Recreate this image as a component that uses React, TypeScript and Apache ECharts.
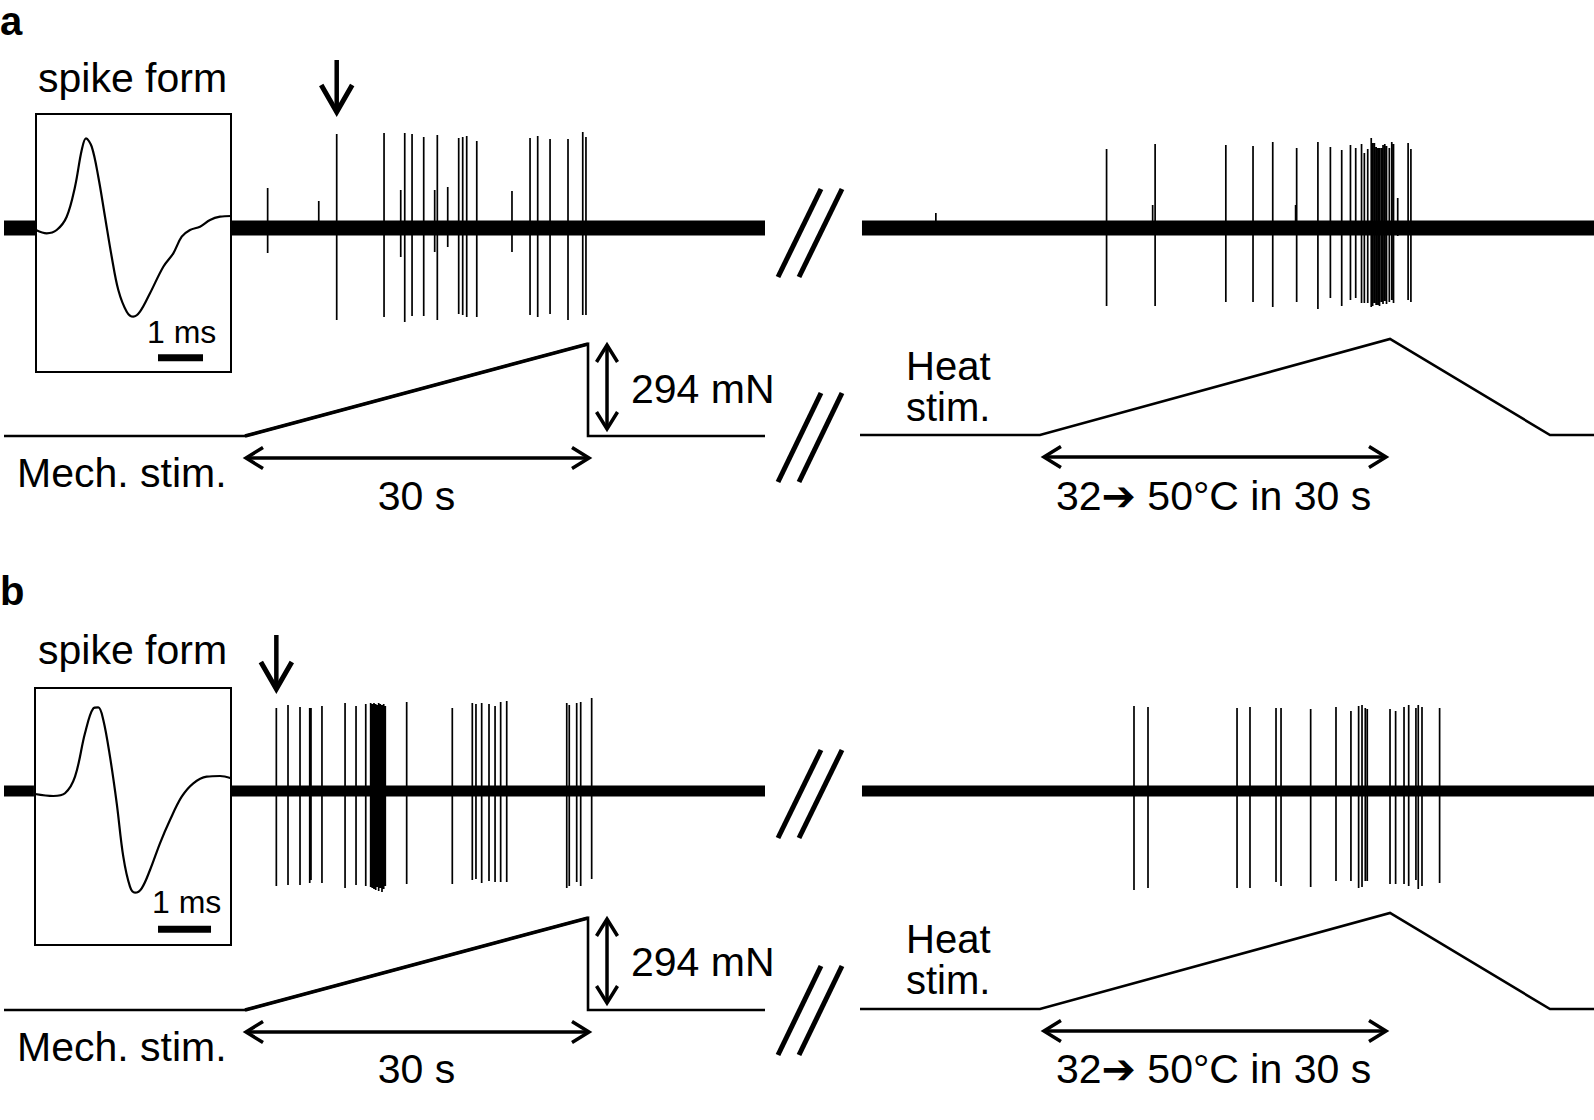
import React, { useEffect, useRef } from "react";
import * as echarts from "echarts";

const FONT = '"Liberation Sans", Arial, Helvetica, "DejaVu Sans", sans-serif';

// ---------- time axes (s) ----------
const LEFT_T_MAX = 66.56;
const RIGHT_T_MAX = 62.9;

// ---------- stimuli ----------
const mechStimT = [0, 21.08, 51.08, 51.08, 66.56];
const mechStimForce = [0, 0, 294, 0, 0]; // mN
const heatStimT = [0, 15.42, 45.42, 59.13, 62.9];
const heatStimTemp = [32, 32, 50, 32, 32]; // °C

// ---------- spike forms (ms, a.u.) ----------
const formA_ms = [0, 0.238, 0.46, 0.682, 0.867, 1.016, 1.111, 1.238, 1.384, 1.533, 1.682, 1.829, 2.016, 2.162, 2.311, 2.533, 2.829, 3.051, 3.238, 3.422, 3.644, 3.867, 4.089, 4.333];
const formA_amp = [-2, -5.3, -2, 11.3, 41.3, 78, 89.7, 81.3, 51.3, 11.3, -28.7, -62, -83.7, -88.7, -83.7, -65.3, -38.7, -25.3, -8.7, -2, 1.3, 8, 11.3, 12];
const formB_ms = [0, 0.345, 0.566, 0.755, 0.943, 1.1, 1.194, 1.289, 1.415, 1.542, 1.666, 1.792, 1.887, 2.013, 2.17, 2.358, 2.547, 2.768, 2.987, 3.24, 3.491, 3.698];
const formB_amp = [-3, -5, -2.3, 14.3, 57.7, 82.7, 83.7, 71, 34.3, -12.3, -65.7, -95.7, -101.7, -97.3, -79, -52.3, -29, -5.7, 7.7, 14.3, 15, 12.7];
const scaleBarA_ms = [2.711, 3.711];
const scaleBarB_ms = [2.321, 3.321];

// ---------- panel a: spikes during mechanical stimulation ----------
const mechSpikeT_A = [23.06, 27.53, 29.1, 33.24, 34.7, 35.05, 35.69, 36.71, 37.67, 37.9, 38.81, 39.77, 40.12, 40.47, 41.35, 44.43, 46.01, 46.68, 47.76, 49.33, 50.62, 50.9];
const mechSpikeUp_A = [40, 27, 94, 95, 38, 95, 94, 91, 38, 93, 41, 90, 91, 92, 87, 37, 90, 92, 89, 89, 96, 91];
const mechSpikeDown_A = [25, 3, 92, 89, 29, 94, 88, 88, 24, 92, 19, 86, 87, 89, 89, 24, 87, 89, 86, 92, 87, 87];

// ---------- panel a: spikes during heat stimulation ----------
const heatSpikeT_A = [6.5, 21.13, 25.08, 25.29, 31.35, 33.68, 35.37, 37.33, 37.42, 39.24, 40.31, 41.28, 42.03, 42.48, 42.98, 43.22, 43.51, 43.81, 43.93, 44.08, 44.23, 44.38, 44.52, 44.68, 44.82, 44.97, 45.12, 45.36, 45.57, 45.72, 46.08, 46.97, 47.21];
const heatSpikeUp_A = [15, 79, 23, 84, 83, 82, 86, 23, 80, 86, 81, 78, 83, 80, 84, 75, 79, 90, 85, 85, 81, 80, 80, 80, 83, 84, 82, 80, 86, 84, 30, 85, 79];
const heatSpikeDown_A = [2, 78, 3, 78, 74, 74, 79, 5, 74, 81, 70, 78, 72, 70, 75, 75, 75, 79, 78, 75, 77, 77, 78, 74, 76, 73, 76, 74, 72, 75, 8, 72, 74];

// ---------- panel b: spikes during mechanical stimulation ----------
const mechSpikeT_B = [23.82, 24.84, 25.89, 26.74, 26.85, 27.81, 29.83, 30.79, 31.64, 32.07, 32.21, 32.36, 32.51, 32.62, 32.77, 32.91, 33.06, 33.21, 33.35, 35.22, 39.21, 40.96, 41.28, 41.78, 42.42, 42.95, 43.44, 43.97, 49.22, 49.44, 50.09, 50.44, 51.4];
const mechSpikeUp_B = [83, 86, 84, 83, 83, 85, 88, 85, 87, 88, 87, 88, 87, 86, 88, 87, 86, 87, 85, 89, 83, 88, 87, 88, 87, 85, 89, 90, 88, 86, 88, 89, 93];
const mechSpikeDown_B = [95, 94, 94, 92, 89, 92, 97, 94, 95, 96, 97, 98, 99, 96, 100, 97, 101, 98, 95, 93, 93, 89, 88, 92, 90, 91, 91, 91, 97, 95, 91, 95, 88];

// ---------- panel b: spikes during heat stimulation ----------
const heatSpikeT_B = [23.48, 24.68, 32.31, 33.42, 35.65, 36.08, 38.62, 40.79, 42.07, 42.73, 43.02, 43.3, 43.47, 45.42, 45.9, 46.62, 47.02, 47.64, 47.84, 48.16, 49.67];
const heatSpikeUp_B = [85, 84, 83, 84, 83, 83, 82, 84, 80, 85, 86, 83, 82, 82, 80, 84, 86, 83, 86, 84, 83];
const heatSpikeDown_B = [99, 97, 97, 97, 91, 95, 96, 90, 90, 97, 96, 90, 90, 93, 93, 93, 95, 89, 98, 95, 92];

const PANELS = [
  {
    label: "a",
    form: [formA_ms, formA_amp], bar: scaleBarA_ms, barAmp: -129.7,
    mech: [mechSpikeT_A, mechSpikeUp_A, mechSpikeDown_A],
    heat: [heatSpikeT_A, heatSpikeUp_A, heatSpikeDown_A],
    inset: { left: 36, top: 114, width: 195, height: 258, xMax: 4.333, yMin: -144, yMax: 114 },
    base: 228, noiseW: 15, boxT: [2.71, 19.94],
    mechTop: 344, heatTop: 339,
    labelY: 21, spikeFormY: 78, msX: 147, msY: 332, mechY: 473, sY: 496, mnY: 389, heatStimY: 386,
    arrowTop: 60, arrowTip: 113, slashUp: [277, 189], slashLow: [482, 393],
  },
  {
    label: "b",
    form: [formB_ms, formB_amp], bar: scaleBarB_ms, barAmp: -138.3,
    mech: [mechSpikeT_B, mechSpikeUp_B, mechSpikeDown_B],
    heat: [heatSpikeT_B, heatSpikeUp_B, heatSpikeDown_B],
    inset: { left: 35, top: 688, width: 196, height: 257, xMax: 3.698, yMin: -154, yMax: 103 },
    base: 791, noiseW: 11, boxT: [2.62, 19.94],
    mechTop: 918, heatTop: 913,
    labelY: 591, spikeFormY: 650, msX: 152, msY: 902, mechY: 1047, sY: 1069, mnY: 962, heatStimY: 959,
    arrowTop: 635, arrowTip: 690, slashUp: [838, 750], slashLow: [1055, 966],
  },
];

function spikeData(t: number[], up: number[], down: number[]) {
  const d: number[][] = [];
  for (let i = 0; i < t.length; i++) {
    d.push([t[i], 0], [t[i], up[i]], [t[i], -down[i]], [t[i], 0]);
  }
  return d;
}

function zip(a: number[], b: number[]) {
  return a.map((v, i) => [v, b[i]]);
}

function lineSeries(g: number, data: any[], width: number, extra: any = {}) {
  return {
    type: "line",
    xAxisIndex: g,
    yAxisIndex: g,
    data,
    symbol: "none",
    showSymbol: false,
    clip: false,
    silent: true,
    emphasis: { disabled: true },
    lineStyle: { color: "#000", width, cap: "butt", join: "miter" },
    ...extra,
  };
}

function text(x: number, y: number, str: string, size = 41, align = "left", weight = "normal", lh?: number) {
  return {
    type: "text",
    x,
    y,
    silent: true,
    style: {
      text: str,
      fontSize: size,
      lineHeight: lh || Math.round(size * 0.9),
      fontFamily: FONT,
      fontWeight: weight,
      fill: "#000",
      align,
      verticalAlign: "middle",
    },
  };
}

function seg(x1: number, y1: number, x2: number, y2: number, w: number) {
  return {
    type: "line",
    silent: true,
    shape: { x1, y1, x2, y2 },
    style: { stroke: "#000", lineWidth: w, lineCap: "butt" },
  };
}

function chevron(points: number[][], w: number) {
  return {
    type: "polyline",
    silent: true,
    shape: { points },
    style: { stroke: "#000", fill: "none", lineWidth: w, lineJoin: "miter", lineCap: "butt" },
  };
}

function hArrow(x1: number, x2: number, y: number) {
  const w = 3.5;
  return [
    seg(x1 + 1, y, x2 - 1, y, w),
    chevron([[x1 + 18, y - 10.5], [x1 + 1, y], [x1 + 18, y + 10.5]], w),
    chevron([[x2 - 18, y - 10.5], [x2 - 1, y], [x2 - 18, y + 10.5]], w),
  ];
}

function vArrow(x: number, y1: number, y2: number) {
  const w = 3.5;
  return [
    seg(x, y1 + 1, x, y2 - 1, w),
    chevron([[x - 10.5, y1 + 18], [x, y1 + 1], [x + 10.5, y1 + 18]], w),
    chevron([[x - 10.5, y2 - 18], [x, y2 - 1], [x + 10.5, y2 - 18]], w),
  ];
}

export default function App() {
  const ref = useRef<HTMLDivElement>(null);

  useEffect(() => {
    document.body.style.margin = "0";
    document.body.style.overflow = "hidden";
    if (!ref.current) return;
    const chart = echarts.init(ref.current, undefined, { renderer: "svg" });

    const grid: any[] = [];
    const xAxis: any[] = [];
    const yAxis: any[] = [];
    const series: any[] = [];

    PANELS.forEach((P) => {
      const g0 = grid.length;
      const I = P.inset;
      // 0: inset box
      grid.push({ left: I.left, top: I.top, width: I.width, height: I.height, show: true, borderColor: "#000", borderWidth: 2, backgroundColor: "#fff" });
      xAxis.push({ type: "value", gridIndex: g0, min: 0, max: I.xMax, show: false });
      yAxis.push({ type: "value", gridIndex: g0, min: I.yMin, max: I.yMax, show: false });
      // 1: left trace
      grid.push({ left: 4, width: 761, top: P.base - 100, height: 200 });
      xAxis.push({ type: "value", gridIndex: g0 + 1, min: 0, max: LEFT_T_MAX, show: false });
      yAxis.push({ type: "value", gridIndex: g0 + 1, min: -100, max: 100, show: false });
      // 2: right trace
      grid.push({ left: 860, width: 734, top: P.base - 100, height: 200 });
      xAxis.push({ type: "value", gridIndex: g0 + 2, min: 0, max: RIGHT_T_MAX, show: false });
      yAxis.push({ type: "value", gridIndex: g0 + 2, min: -100, max: 100, show: false });
      // 3: mechanical stimulus
      grid.push({ left: 4, width: 761, top: P.mechTop, height: 92 });
      xAxis.push({ type: "value", gridIndex: g0 + 3, min: 0, max: LEFT_T_MAX, show: false });
      yAxis.push({ type: "value", gridIndex: g0 + 3, min: 0, max: 294, show: false });
      // 4: heat stimulus
      grid.push({ left: 860, width: 734, top: P.heatTop, height: 96 });
      xAxis.push({ type: "value", gridIndex: g0 + 4, min: 0, max: RIGHT_T_MAX, show: false });
      yAxis.push({ type: "value", gridIndex: g0 + 4, min: 32, max: 50, show: false });

      // spike form + scale bar
      series.push(lineSeries(g0, zip(P.form[0], P.form[1]), 2.2, { smooth: 0.35 }));
      series.push(lineSeries(g0, [[P.bar[0], P.barAmp], [P.bar[1], P.barAmp]], 7));
      // noise bands
      series.push(lineSeries(g0 + 1, [[0, 0], [P.boxT[0], 0]], P.noiseW));
      series.push(lineSeries(g0 + 1, [[P.boxT[1], 0], [LEFT_T_MAX, 0]], P.noiseW));
      series.push(lineSeries(g0 + 2, [[0.17, 0], [RIGHT_T_MAX, 0]], P.noiseW));
      // spikes
      series.push(lineSeries(g0 + 1, spikeData(P.mech[0], P.mech[1], P.mech[2]), 1.7));
      series.push(lineSeries(g0 + 2, spikeData(P.heat[0], P.heat[1], P.heat[2]), 1.7));
      // stimuli
      series.push(lineSeries(g0 + 3, zip(mechStimT, mechStimForce), 2.6));
      // the force ramp (stepped motor) looks heavier
      series.push(lineSeries(g0 + 3, zip(mechStimT.slice(1, 3), mechStimForce.slice(1, 3)), 3.6));
      series.push(lineSeries(g0 + 4, zip(heatStimT, heatStimTemp), 2.6));
    });

    chart.setOption({
      animation: false,
      backgroundColor: "#fff",
      grid,
      xAxis,
      yAxis,
      series,
    });

    const graphic: any[] = [];
    PANELS.forEach((P, p) => {
      const g0 = p * 5;
      const px = (g: number, x: number, y: number) => chart.convertToPixel({ gridIndex: g } as any, [x, y]) as number[];

      graphic.push(text(0, P.labelY, P.label, 40, "left", "bold"));
      graphic.push(text(38, P.spikeFormY, "spike form", 41));
      graphic.push(text(P.msX, P.msY, "1 ms", 32));

      // down arrow at first large spike
      const firstBig = P.mech[1].findIndex((v) => v > 70);
      const ax = px(g0 + 1, P.mech[0][firstBig], 0)[0];
      graphic.push(seg(ax, P.arrowTop, ax, P.arrowTip - 4, 4.5));
      graphic.push(chevron([[ax - 15.5, P.arrowTip - 28], [ax, P.arrowTip - 1], [ax + 15.5, P.arrowTip - 28]], 5));

      // break marks
      const addSlashes = (yb: number, yt: number) => {
        graphic.push(seg(778, yb, 821, yt, 5));
        graphic.push(seg(799, yb, 842, yt, 5));
      };
      addSlashes(P.slashUp[0], P.slashUp[1]);
      addSlashes(P.slashLow[0], P.slashLow[1]);

      // mechanical annotations
      const mStart = px(g0 + 3, mechStimT[1], 0);
      const mEnd = px(g0 + 3, mechStimT[2], mechStimForce[2]);
      const mBase = mStart[1];
      graphic.push(...hArrow(mStart[0], mEnd[0] + 2, mBase + 22));
      graphic.push(text((mStart[0] + mEnd[0]) / 2, P.sY, "30 s", 41, "center"));
      graphic.push(text(17, P.mechY, "Mech. stim.", 41));
      graphic.push(...vArrow(mEnd[0] + 19, mEnd[1], mBase - 6));
      graphic.push(text(mEnd[0] + 43, P.mnY, "294 mN", 41));

      // heat annotations
      const hStart = px(g0 + 4, heatStimT[1], 32);
      const hPeak = px(g0 + 4, heatStimT[2], 50);
      graphic.push(...hArrow(hStart[0] + 3, hPeak[0] - 3, hStart[1] + 22));
      graphic.push(text(906, P.heatStimY, "Heat\nstim.", 40, "left", "normal", 41));
      graphic.push(text(1056, P.sY, "32➔ 50°C in 30 s", 41));
    });

    chart.setOption({ graphic });

    return () => chart.dispose();
  }, []);

  return <div ref={ref} style={{ width: 1594, height: 1120 }} />;
}
